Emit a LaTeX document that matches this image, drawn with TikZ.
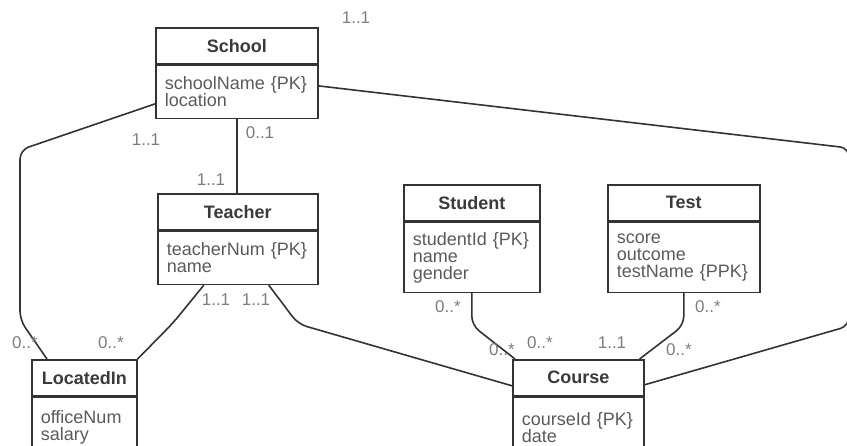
\documentclass[tikz,border=0pt]{standalone}
\usepackage{fontspec}
\setmainfont{Liberation Sans}
\usepackage{xcolor}
\usetikzlibrary{positioning,calc}

\definecolor{umlline}{HTML}{333333}
\definecolor{umlhead}{HTML}{3a3a3a}
\definecolor{umltext}{HTML}{5a5a5a}
\definecolor{umlcard}{HTML}{7d7d7d}

\tikzset{
  hdr/.style={draw=umlline,line width=1.6,minimum height=36,inner sep=0,
    font=\fontsize{18}{17}\selectfont\bfseries,text=umlhead},
  attr/.style={draw=umlline,line width=1.6,inner xsep=9,inner ysep=0,align=left,
    font=\fontsize{18}{17}\selectfont,text=umltext},
  link/.style={draw=umlline,line width=1.6,rounded corners=9},
  card/.style={font=\fontsize{17}{17}\selectfont,text=umlcard,inner sep=1},
}

\begin{document}
\begin{tikzpicture}[x=1pt,y=1pt]
 \useasboundingbox (0,0) rectangle (847,-446);
 % --- entities ---
 \foreach \n/\x/\y/\w/\h/\t/\a in {
   school/155/27/162/53/School/{schoolName \{PK\}\\location},
   teacher/157/193/160/53/Teacher/{teacherNum \{PK\}\\name},
   student/403/184/136/70/Student/{studentId \{PK\}\\name\\gender},
   test/607/184/152/70/Test/{score\\outcome\\testName \{PPK\}},
   locin/31/359/105/60/LocatedIn/{officeNum\\salary},
   course/512/359/131/60/Course/{courseId \{PK\}\\date}}
 {
   \pgfmathsetmacro\tw{\w-18}
   \node[hdr,minimum width=\w,anchor=north west] (\n-h) at (\x,-\y) {\t};
   \node[attr,minimum width=\w,minimum height=\h,text width=\tw pt,anchor=north] (\n-b) at (\n-h.south) {\a};
 }
 % --- relationships ---
 \draw[link] ([yshift=-12]school-b.west) -- (20,-150) -- (20,-320) -- ([xshift=16]locin-h.north west);
 \draw[link] (school-b.south) -- (school-b.south |- teacher-h.north);
 \draw[link] ([yshift=6]school-b.east) -- (849,-148) -- (849,-326) -- ([yshift=-7]course-h.east);
 \draw[link] ([xshift=-34]teacher-b.south) -- (173,-323) -- (locin-h.north east);
 \draw[link] ([xshift=31]teacher-b.south) -- (298,-324) -- ([yshift=-8]course-h.west);
 \draw[link] (student-b.south) -- ++(0,-32) -- ([xshift=3]course-h.north west);
 \draw[link] (test-b.south) -- ++(0,-32) -- ([xshift=-5]course-h.north east);
 % --- multiplicities ---
 \foreach \i/\x/\y/\m in {c1/356/18/1..1, c2/146/140/1..1, c3/260/133/0..1, c4/211/180/1..1,
   c5/25/343/0..*, c6/111/343/0..*, c7/216/300/1..1, c8/256/300/1..1,
   c9/448/307/0..*, c10/502/350/0..*, c11/540/343/0..*, c12/612/343/1..1,
   c13/679/350/0..*, c14/708/307/0..*}
   \node[card] (\i) at (\x,-\y) {\m};
\end{tikzpicture}
\end{document}
